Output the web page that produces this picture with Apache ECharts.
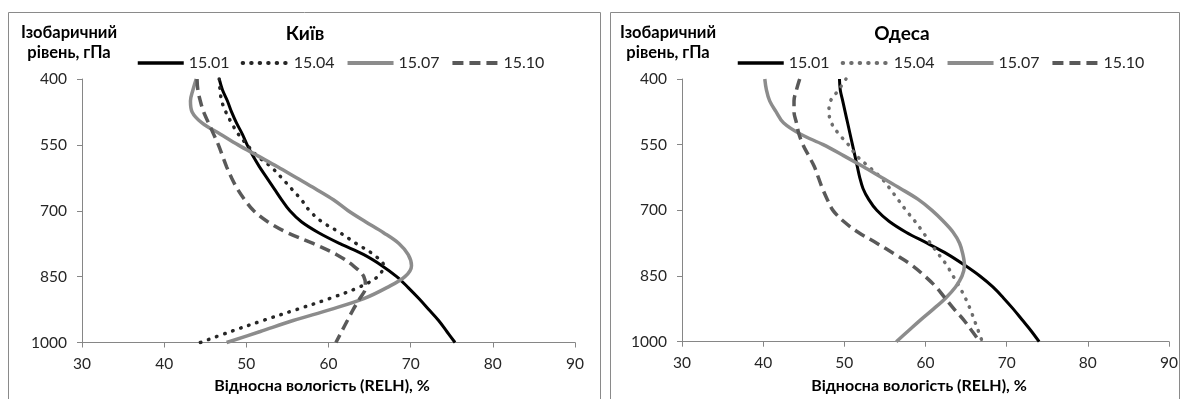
<!DOCTYPE html>
<html>
<head>
<meta charset="utf-8">
<script src="https://cdn.jsdelivr.net/npm/echarts@6/dist/echarts.min.js"></script>
<style>
html,body{margin:0;padding:0;background:#fff;}
#c{width:1182px;height:399px;}
</style>
</head>
<body>
<div id="c"></div>
<script>
// Pressure levels, hPa
const levels = [400,425,450,475,500,525,550,575,600,625,650,675,700,725,750,775,800,825,850,875,900,925,950,975,1000];
const seriesNames = ['15.01','15.04','15.07','15.10'];
const xTicks = [30,40,50,60,70,80,90];
const yTicks = [400,550,700,850,1000];
const panelTitles = ['Київ','Одеса'];
const yTitle = 'Ізобаричний\nрівень, гПа';
const xTitle = 'Відносна вологість (RELH), %';

// Київ
const kyiv_0115 = [46.7,47.1,47.7,48.2,48.8,49.5,50.1,50.8,51.6,52.5,53.4,54.3,55.3,56.7,58.8,61.4,64.3,66.5,68.3,69.7,71.0,72.2,73.4,74.4,75.4];
const kyiv_0415 = [46.7,46.8,47.0,47.5,48.2,49.0,50.1,51.3,53.0,54.3,55.5,56.7,57.7,59.2,61.4,63.4,65.5,66.7,66.0,63.6,60.1,56.1,52.0,48.1,44.4];
const kyiv_0715 = [43.9,43.5,43.2,43.4,44.6,46.8,49.0,51.4,53.8,56.1,58.4,60.6,62.4,64.5,66.7,68.6,69.7,70.1,69.3,67.1,64.3,60.2,55.7,51.7,47.6];
const kyiv_1015 = [44.0,44.1,44.4,44.8,45.4,46.0,46.6,47.1,47.6,48.2,48.9,49.8,50.9,52.6,55.0,58.2,61.0,63.0,64.3,64.5,63.8,63.0,62.3,61.6,60.9];

// Одеса
const odesa_0115 = [49.4,49.5,49.8,50.1,50.4,50.7,51.0,51.3,51.6,51.9,52.3,53.0,54.0,55.5,57.6,60.2,62.7,64.8,66.7,68.3,69.6,70.8,71.9,73.0,74.0];
const odesa_0415 = [50.2,49.3,48.3,48.1,48.4,49.3,50.5,51.5,53.0,54.5,55.6,56.6,57.6,58.7,59.7,60.6,61.6,62.6,63.4,64.2,64.9,65.5,66.0,66.5,67.0];
const odesa_0715 = [40.2,40.4,40.8,41.6,42.5,44.5,47.4,49.9,52.3,54.6,56.9,59.1,60.8,62.2,63.4,64.2,64.6,64.8,64.5,63.7,62.5,61.0,59.4,57.9,56.4];
const odesa_1015 = [44.5,44.1,43.8,43.8,44.1,44.4,44.9,45.6,46.3,46.8,47.3,47.9,48.6,49.9,51.7,54.0,56.2,58.3,59.9,61.3,62.4,63.5,64.7,65.7,66.7];

const panels = [
  [kyiv_0115, kyiv_0415, kyiv_0715, kyiv_1015],
  [odesa_0115, odesa_0415, odesa_0715, odesa_1015]
];

const FONT = 'Lato';
const styles = [
  [
    {color:'#000000', width:3, type:'solid', cap:'butt'},
    {color:'#262626', width:3.5, type:[0.5,8], cap:'round'},
    {color:'#8c8c8c', width:3.5, type:'solid', cap:'butt'},
    {color:'#595959', width:3.5, type:[11,6], cap:'butt'}
  ],
  [
    {color:'#000000', width:3, type:'solid', cap:'butt'},
    {color:'#6e6e6e', width:3.5, type:[0.5,8], cap:'round'},
    {color:'#8c8c8c', width:3.5, type:'solid', cap:'butt'},
    {color:'#595959', width:3.5, type:[11,6], cap:'butt'}
  ]
];

const grids = [
  {left:82, right:607, top:79, bottom:56.5},
  {left:682, right:13, top:79, bottom:57.3}
];

function pairs(vals){ return vals.map((v,i)=>[v, levels[i]]); }

const axisLine = {show:true, lineStyle:{color:'#868686', width:1}};
const xAxes = grids.map((g,i)=>({
  type:'value', gridIndex:i, min:xTicks[0], max:xTicks[xTicks.length-1], interval:10,
  axisLine:axisLine, axisTick:{show:true, inside:false, length:5, lineStyle:{color:'#868686'}},
  splitLine:{show:false},
  axisLabel:{fontFamily:FONT, fontSize:15.5, color:'#262626', margin:13, formatter:v=>String(v)}
}));
const yAxes = grids.map((g,i)=>({
  type:'value', gridIndex:i, min:yTicks[0], max:yTicks[yTicks.length-1], interval:150, inverse:true,
  axisLine:axisLine, axisTick:{show:true, inside:false, length:5, lineStyle:{color:'#868686'}},
  splitLine:{show:false},
  axisLabel:{fontFamily:FONT, fontSize:15.5, color:'#262626', margin:15, formatter:v=>String(v)}
}));

const series = [];
panels.forEach((arrs,pi)=>{
  arrs.forEach((vals,si)=>{
    series.push({
      type:'line', name:seriesNames[si], xAxisIndex:pi, yAxisIndex:pi,
      data:pairs(vals), smooth:0.35, symbol:'none', showSymbol:false,
      itemStyle:{color:styles[pi][si].color},
      lineStyle:Object.assign({}, styles[pi][si]), silent:true, animation:false, clip:false
    });
  });
});

const legendLefts = [131, 731];
const legends = [0,1].map(pi=>({
  left:legendLefts[pi], top:50, orient:'horizontal', itemWidth:46, itemHeight:14, itemGap:11,
  selectedMode:false,
  itemStyle:{opacity:0},
  textStyle:{fontFamily:FONT, fontSize:16, color:'#262626'},
  data:seriesNames.map((n,si)=>({name:n, itemStyle:{opacity:0}, lineStyle:Object.assign({}, styles[pi][si], {width: styles[pi][si].width+0.5})}))
}));

const titleX = [305, 902];
const yTitleX = [69, 668];
const xTitleX = [322, 919];
const graphic = [
  {type:'rect', shape:{x:8.5, y:12.5, width:592, height:420}, style:{fill:'none', stroke:'#8a8a8a', lineWidth:1}, silent:true},
  {type:'rect', shape:{x:610.5, y:12.5, width:569, height:420}, style:{fill:'none', stroke:'#8a8a8a', lineWidth:1}, silent:true}
];
[0,1].forEach(pi=>{
  graphic.push({type:'text', x:titleX[pi], y:34, style:{text:panelTitles[pi], font:'bold 19px '+FONT, fill:'#000', align:'center', verticalAlign:'middle'}, silent:true});
  graphic.push({type:'text', x:yTitleX[pi], y:43, style:{text:yTitle, font:'bold 16.5px '+FONT, fill:'#000', align:'center', verticalAlign:'middle', lineHeight:20}, silent:true});
  graphic.push({type:'text', x:xTitleX[pi], y:386, style:{text:xTitle, font:'bold 16px '+FONT, fill:'#000', align:'center', verticalAlign:'middle'}, silent:true});
});

const chart = echarts.init(document.getElementById('c'), null, {renderer:'canvas'});
chart.setOption({
  animation:false,
  backgroundColor:'#ffffff',
  grid:grids,
  xAxis:xAxes,
  yAxis:yAxes,
  legend:legends,
  series:series,
  graphic:graphic
});
</script>
</body>
</html>
